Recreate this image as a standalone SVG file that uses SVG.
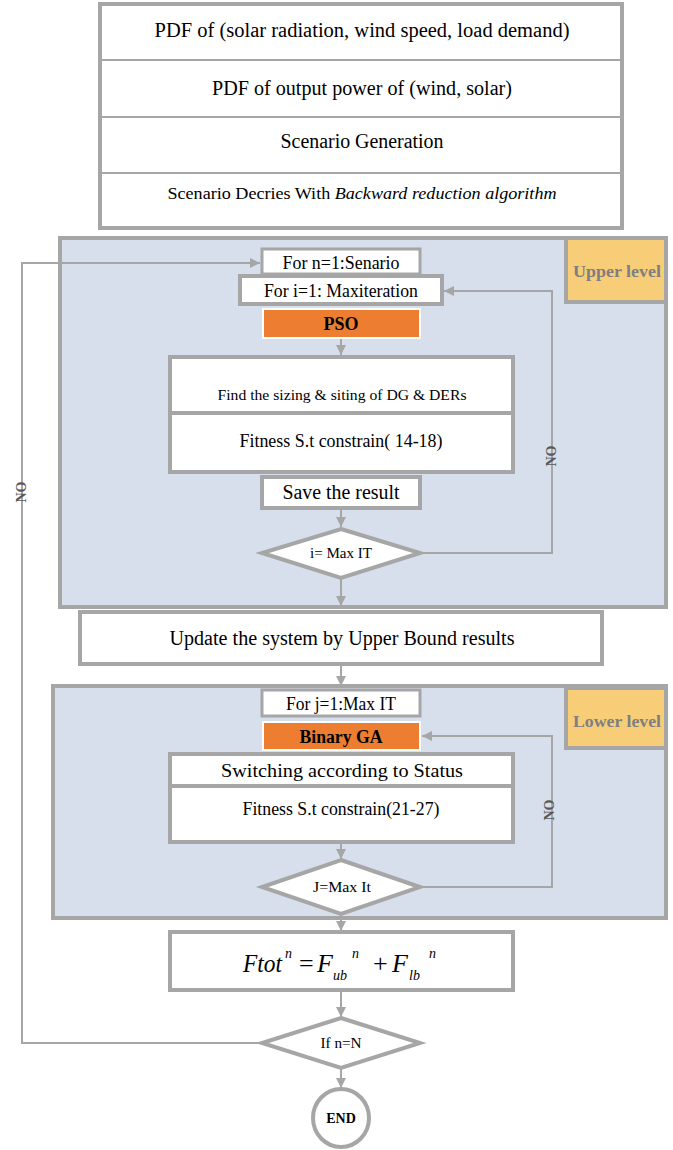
<svg xmlns="http://www.w3.org/2000/svg" width="673" height="1150" viewBox="0 0 673 1150">
<defs>
<style>
.box{fill:#fff;stroke:#a6a6a6;stroke-width:4}
.thin{fill:#fff;stroke:#a6a6a6;stroke-width:3}
.panel{fill:#d6dfeb;stroke:#a6a6a6;stroke-width:4}
.lvl{fill:#f8cd78;stroke:#a6a6a6;stroke-width:4}
.org{fill:#ed7d31;stroke:#fff;stroke-width:2}
.ln{fill:none;stroke:#a6a6a6;stroke-width:2}
.t{font-family:"Liberation Serif","Times New Roman",serif;fill:#000;text-anchor:middle}
.b{font-weight:bold}
.lt{font-family:"Liberation Serif","Times New Roman",serif;font-weight:bold;fill:#7f7f7f;text-anchor:middle;font-size:17px}
.no{font-family:"Liberation Serif","Times New Roman",serif;font-weight:bold;fill:#595959;text-anchor:middle;font-size:14px}
.m{font-family:"Liberation Serif","Times New Roman",serif;font-style:italic;fill:#000}
</style>
<marker id="ah" viewBox="0 0 10 10" refX="10" refY="5" markerWidth="5" markerHeight="5" orient="auto" markerUnits="strokeWidth">
<path d="M0,0 L10,5 L0,10 z" fill="#a6a6a6"/>
</marker>
</defs>

<g id="input-stack">
<rect class="box" x="100" y="4" width="522" height="224"/>
<line class="ln" x1="100" y1="60" x2="622" y2="60" stroke-width="4"/>
<line class="ln" x1="100" y1="117" x2="622" y2="117" stroke-width="4"/>
<line class="ln" x1="100" y1="173" x2="622" y2="173" stroke-width="4"/>
<text class="t" x="362" y="37" font-size="20" textLength="415" lengthAdjust="spacingAndGlyphs">PDF of (solar radiation, wind speed, load demand)</text>
<text class="t" x="362" y="95" font-size="20" textLength="300" lengthAdjust="spacingAndGlyphs">PDF of output power of (wind, solar)</text>
<text class="t" x="362" y="148" font-size="20" textLength="163" lengthAdjust="spacingAndGlyphs">Scenario Generation</text>
<text class="t" x="362" y="199" font-size="16" textLength="389" lengthAdjust="spacingAndGlyphs">Scenario Decries With <tspan font-style="italic">Backward reduction algorithm</tspan></text>
</g>

<g id="upper-panel">
<rect class="panel" x="60" y="238" width="606" height="369"/>
<rect class="lvl" x="566" y="238" width="100" height="64"/>
<text class="lt" x="617" y="277" textLength="88" lengthAdjust="spacingAndGlyphs">Upper level</text>
</g>

<g id="lower-panel">
<rect class="panel" x="53" y="686" width="613" height="232"/>
<rect class="lvl" x="566" y="688" width="100" height="60"/>
<text class="lt" x="617" y="727" textLength="88" lengthAdjust="spacingAndGlyphs">Lower level</text>
</g>

<g id="connectors">
<line class="ln" x1="341" y1="338" x2="341" y2="355" marker-end="url(#ah)"/>
<line class="ln" x1="341" y1="508" x2="341" y2="527" marker-end="url(#ah)"/>
<polyline class="ln" points="420,553 552,553 552,291 444,291" marker-end="url(#ah)"/>
<line class="ln" x1="341" y1="578" x2="341" y2="606" marker-end="url(#ah)"/>
<line class="ln" x1="341" y1="664" x2="341" y2="686" marker-end="url(#ah)"/>
<line class="ln" x1="341" y1="842" x2="341" y2="859" marker-end="url(#ah)"/>
<polyline class="ln" points="420,887 552,887 552,736 422,736" marker-end="url(#ah)"/>
<line class="ln" x1="341" y1="914" x2="341" y2="931" marker-end="url(#ah)"/>
<line class="ln" x1="341" y1="990" x2="341" y2="1017" marker-end="url(#ah)"/>
<polyline class="ln" points="262,1043 22,1043 22,263 260,263" marker-end="url(#ah)"/>
<line class="ln" x1="341" y1="1068" x2="341" y2="1088" marker-end="url(#ah)"/>
<text class="no" transform="translate(552,456) rotate(-90)" y="4">NO</text>
<text class="no" transform="translate(550,810) rotate(-90)" y="4">NO</text>
<text class="no" transform="translate(22,492) rotate(-90)" y="4">NO</text>
</g>

<g id="for-n">
<rect class="thin" x="262" y="249" width="158" height="25"/>
<text class="t" x="341" y="269" font-size="18" textLength="117" lengthAdjust="spacingAndGlyphs">For n=1:Senario</text>
</g>
<g id="for-i">
<rect class="box" x="240" y="276" width="202" height="28"/>
<text class="t" x="341" y="297" font-size="18" textLength="154" lengthAdjust="spacingAndGlyphs">For i=1: Maxiteration</text>
</g>
<g id="pso">
<rect class="org" x="263" y="309" width="157" height="29"/>
<text class="t b" x="341" y="330" font-size="18">PSO</text>
</g>
<g id="find">
<rect class="box" x="170" y="357" width="343" height="56"/>
<text class="t" x="342" y="400" font-size="15" textLength="249" lengthAdjust="spacingAndGlyphs">Find the sizing &amp; siting of DG &amp; DERs</text>
</g>
<g id="fitness1">
<rect class="box" x="170" y="413" width="343" height="59"/>
<text class="t" x="341" y="447" font-size="19" textLength="203" lengthAdjust="spacingAndGlyphs">Fitness S.t constrain( 14-18)</text>
</g>
<g id="save">
<rect class="box" x="262" y="477" width="158" height="31"/>
<text class="t" x="341" y="499" font-size="20" textLength="117" lengthAdjust="spacingAndGlyphs">Save the result</text>
</g>
<g id="dec-i">
<polygon class="box" points="341,529 420,553 341,578 262,553"/>
<text class="t" x="341" y="558" font-size="15" textLength="62" lengthAdjust="spacingAndGlyphs">i= Max IT</text>
</g>
<g id="update">
<rect class="box" x="80" y="612" width="522" height="52"/>
<text class="t" x="342" y="645" font-size="20" textLength="345" lengthAdjust="spacingAndGlyphs">Update the system by Upper Bound results</text>
</g>
<g id="for-j">
<rect class="thin" x="262" y="690" width="158" height="26"/>
<text class="t" x="341" y="710" font-size="18" textLength="110" lengthAdjust="spacingAndGlyphs">For j=1:Max IT</text>
</g>
<g id="ga">
<rect class="org" x="263" y="722" width="157" height="28"/>
<text class="t b" x="341" y="743" font-size="18" textLength="83" lengthAdjust="spacingAndGlyphs">Binary GA</text>
</g>
<g id="switch">
<rect class="box" x="170" y="754" width="343" height="32"/>
<text class="t" x="342" y="777" font-size="19" textLength="242" lengthAdjust="spacingAndGlyphs">Switching according to Status</text>
</g>
<g id="fitness2">
<rect class="box" x="170" y="786" width="343" height="56"/>
<text class="t" x="341" y="815" font-size="18" textLength="197" lengthAdjust="spacingAndGlyphs">Fitness S.t constrain(21-27)</text>
</g>
<g id="dec-j">
<polygon class="box" points="341,860 420,887 341,914 262,887"/>
<text class="t" x="342" y="892" font-size="15" textLength="58" lengthAdjust="spacingAndGlyphs">J=Max It</text>
</g>
<g id="ftot">
<rect class="box" x="170" y="932" width="343" height="58"/>
<text class="m" font-size="26"><tspan x="243" y="972" textLength="39" lengthAdjust="spacingAndGlyphs">Ftot</tspan><tspan x="285" y="958" font-size="14">n</tspan><tspan x="299" y="972" font-style="normal">=</tspan><tspan x="317" y="972">F</tspan><tspan x="333" y="980" font-size="14">ub</tspan><tspan x="352" y="958" font-size="14">n</tspan><tspan x="373" y="972" font-style="normal">+</tspan><tspan x="392" y="972">F</tspan><tspan x="409" y="980" font-size="14">lb</tspan><tspan x="429" y="958" font-size="14">n</tspan></text>
</g>
<g id="dec-n">
<polygon class="box" points="341,1018 420,1043 341,1068 262,1043"/>
<text class="t" x="341" y="1048" font-size="15" textLength="41" lengthAdjust="spacingAndGlyphs">If n=N</text>
</g>
<g id="end">
<ellipse class="box" cx="341" cy="1118" rx="28" ry="29"/>
<text class="t b" x="341" y="1123" font-size="14">END</text>
</g>
</svg>
